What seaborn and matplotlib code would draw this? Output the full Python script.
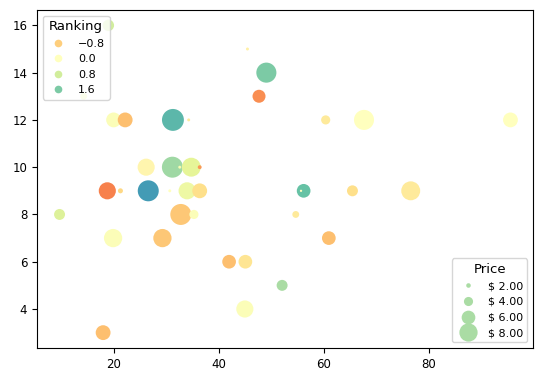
import numpy as np
import matplotlib
matplotlib.use("Agg")
import matplotlib.pyplot as plt
from matplotlib.lines import Line2D
import seaborn as sns

# Data
volume = [19.0, 14.3, 20.0, 22.2, 31.3, 34.3, 26.2, 31.2, 32.6, 34.8,
          36.4, 18.8, 21.3, 26.6, 30.7, 34.0, 36.4, 9.7, 32.8, 35.3,
          19.9, 29.3, 42.0, 45.1, 45.0, 18.0, 45.5, 49.1, 47.7, 60.4,
          67.7, 95.6, 56.2, 55.7, 65.5, 76.6, 54.7, 61.0, 52.1]
amount = [16, 13, 12, 12, 12, 12, 10, 10, 10, 10,
          10, 9, 9, 9, 9, 9, 9, 8, 8, 8,
          7, 7, 6, 6, 4, 3, 15, 14, 13, 12,
          12, 12, 9, 9, 9, 9, 8, 7, 5]
ranking = [0.8, 0.5, 0.1, -1.0, 1.9, -0.4, -0.2, 1.3, 0.2, 0.6,
           -1.4, -1.6, -0.7, 2.2, 0.0, 0.4, -0.6, 0.7, -0.9, 0.1,
           0.1, -0.9, -1.0, -0.5, 0.1, -1.0, -0.3, 1.6, -1.5, -0.4,
           0.0, 0.0, 1.8, 0.0, -0.6, -0.4, -0.4, -1.0, 1.2]
price = [5.0, 3.0, 6.5, 6.5, 9.6, 1.3, 7.5, 9.2, 1.3, 8.3,
         1.7, 7.5, 2.2, 9.2, 1.3, 7.5, 6.5, 4.8, 9.2, 4.0,
         8.0, 8.0, 6.0, 6.0, 7.5, 6.5, 1.3, 8.8, 5.7, 4.0,
         8.8, 6.5, 6.0, 1.0, 4.8, 8.3, 3.0, 6.0, 4.8]

ranking_levels = [-0.8, 0.0, 0.8, 1.6]
ranking_labels = ["\u22120.8", "0.0", "0.8", "1.6"]
price_levels = [2.0, 4.0, 6.0, 8.0]
price_labels = ["$ 2.00", "$ 4.00", "$ 6.00", "$ 8.00"]

cmap = plt.get_cmap("Spectral")
norm = matplotlib.colors.Normalize(vmin=-3, vmax=3)

def price_to_s(p):
    return 0.3 * (np.asarray(p) * 3) ** 2

fig = plt.figure(figsize=(5.42, 3.81), dpi=100)
ax = fig.add_axes([37 / 542, 33 / 381, 496 / 542, 338 / 381])

sns.scatterplot(x=volume, y=amount, hue=ranking, palette="Spectral",
                hue_norm=(-3, 3), s=price_to_s(price), linewidth=0,
                legend=False, ax=ax)

ax.tick_params(labelsize=8.5)

h1 = [Line2D([0], [0], ls="", marker="o", markersize=5.5,
             markerfacecolor=cmap(norm(v)), markeredgewidth=0)
      for v in ranking_levels]
leg1 = ax.legend(h1, ranking_labels, loc="upper left", title="Ranking",
                 fontsize=8, title_fontsize=9.5)
ax.add_artist(leg1)

h2 = [Line2D([0], [0], ls="", marker="o",
             markersize=float(np.sqrt(price_to_s(v))),
             markerfacecolor=cmap(0.7), markeredgewidth=0)
      for v in price_levels]
leg2 = ax.legend(h2, price_labels, loc="lower right", title="Price",
                 fontsize=8, title_fontsize=9.5)

fig.savefig("out.png", dpi=100)
